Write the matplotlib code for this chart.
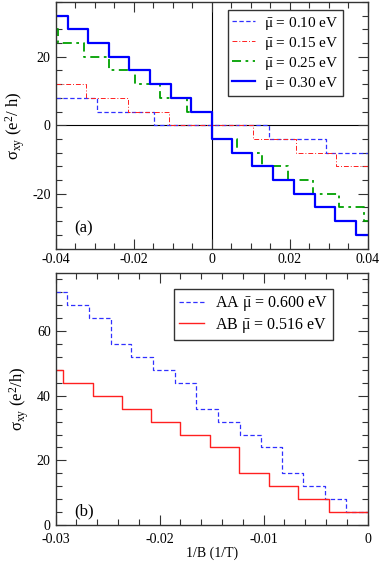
import matplotlib
matplotlib.use("Agg")
import matplotlib.pyplot as plt
from matplotlib.ticker import MultipleLocator, FuncFormatter

plt.rcParams['font.family'] = ['Liberation Serif', 'DejaVu Serif']
plt.rcParams['mathtext.fontset'] = 'custom'
plt.rcParams['mathtext.rm'] = 'Liberation Serif'
plt.rcParams['mathtext.it'] = 'Liberation Serif:italic'
plt.rcParams['axes.unicode_minus'] = False

# ---- panel (a): sigma_xy vs 1/B, step edges
a_x_010 = [-0.04, -0.0293, -0.0147, 0.0146, 0.0293, 0.04]
a_y_010 = [8, 4, 0, -4, -8, -8]

a_x_015 = [-0.04, -0.0322, -0.0215, -0.0109, 0.0107, 0.0216, 0.032, 0.04]
a_y_015 = [12, 8, 4, 0, -4, -8, -12, -12]

a_x_025 = [-0.04, -0.0393, -0.0326, -0.0263, -0.0196, -0.0131, -0.0064, 0.0,
           0.0064, 0.013, 0.0196, 0.026, 0.0326, 0.039, 0.04]
a_y_025 = [28, 24, 20, 16, 12, 8, 4, -4, -8, -12, -16, -20, -24, -28, -28]

a_x_030 = [-0.04, -0.0369, -0.0317, -0.0264, -0.0211, -0.0158, -0.0105, -0.0053, 0.0,
           0.0053, 0.0104, 0.0158, 0.0211, 0.0264, 0.0317, 0.0369, 0.04]
a_y_030 = [32, 28, 24, 20, 16, 12, 8, 4, -4, -8, -12, -16, -20, -24, -28, -32, -32]

# ---- panel (b)
b_x_aa = [-0.03, -0.0289, -0.0268, -0.0247, -0.0227, -0.0206, -0.0185, -0.0165, -0.0144,
          -0.0123, -0.0103, -0.0082, -0.0062, -0.0041, -0.0021, 0.0]
b_y_aa = [72, 68, 64, 56, 52, 48, 44, 36, 32, 28, 24, 16, 12, 8, 4, 4]

b_x_ab = [-0.03, -0.0293, -0.0264, -0.0236, -0.0208, -0.0180, -0.0152, -0.0124,
          -0.0095, -0.0067, -0.0037, 0.0]
b_y_ab = [48, 44, 40, 36, 32, 28, 24, 16, 12, 8, 4, 4]

mu_bar = r'$\bar{\mathrm{\mu}}$'
labels_a = [mu_bar + ' = 0.10 eV', mu_bar + ' = 0.15 eV',
            mu_bar + ' = 0.25 eV', mu_bar + ' = 0.30 eV']
labels_b = ['AA ' + mu_bar + ' = 0.600 eV', 'AB ' + mu_bar + ' = 0.516 eV']


def fmt(v, pos):
    if abs(v) < 1e-12:
        return '0'
    return ('%g' % v)


def style_axes(ax):
    ax.tick_params(which='both', direction='in', top=True, right=True,
                   labelsize=10, width=0.8, colors='#333333', labelcolor='black')
    ax.tick_params(which='major', length=7)
    ax.tick_params(which='minor', length=4)
    for s in ax.spines.values():
        s.set_linewidth(1.0)
        s.set_color('#333333')
    ax.xaxis.set_major_formatter(FuncFormatter(fmt))
    ax.yaxis.set_major_formatter(FuncFormatter(fmt))


def make_legend(ax, anchor, size, hlen, hpad, lspace):
    leg = ax.legend(loc='upper right', bbox_to_anchor=anchor, borderaxespad=0,
                    fancybox=False, edgecolor='#333333', framealpha=1, fontsize=size,
                    handlelength=hlen, labelspacing=lspace, handletextpad=hpad,
                    borderpad=0.3)
    leg.get_frame().set_linewidth(1.0)
    return leg


fig = plt.figure(figsize=(3.82, 5.62), dpi=100)
ax1 = fig.add_axes([0.1453, 0.5578, 0.8173, 0.4386])
ax2 = fig.add_axes([0.1453, 0.0658, 0.8173, 0.4484])

# panel (a)
ax1.axhline(0, color='black', lw=0.8, zorder=1)
ax1.axvline(0, color='black', lw=0.8, zorder=1)
ax1.step(a_x_010, a_y_010, where='post', color='#3030ff', lw=0.9,
         dashes=(3.5, 2), label=labels_a[0])
ax1.step(a_x_015, a_y_015, where='post', color='#ff2020', lw=0.7,
         dashes=(5, 2, 1, 2), label=labels_a[1])
ax1.step(a_x_025, a_y_025, where='post', color='#00a000', lw=1.3,
         dashes=(5, 2.5, 1.5, 2.5), label=labels_a[2])
ax1.step(a_x_030, a_y_030, where='post', color='#0000ff', lw=1.6,
         label=labels_a[3])
ax1.set_xlim(-0.04, 0.04)
ax1.set_ylim(-36, 36)
ax1.xaxis.set_major_locator(MultipleLocator(0.02))
ax1.xaxis.set_minor_locator(MultipleLocator(0.005))
ax1.yaxis.set_major_locator(MultipleLocator(20))
ax1.yaxis.set_minor_locator(MultipleLocator(4))
style_axes(ax1)
ax1.set_ylabel(r'$\mathrm{\sigma_{xy}}$ (e$^2$/ h)', fontsize=12, labelpad=4)
ax1.text(0.06, 0.065, '(a)', transform=ax1.transAxes, fontsize=12)
make_legend(ax1, (0.922, 0.9675), 11, 1.5, 0.6, 0.2)

# panel (b)
ax2.step(b_x_aa, b_y_aa, where='post', color='#3030ff', lw=0.9,
         dashes=(3.5, 2), label=labels_b[0])
ax2.step(b_x_ab, b_y_ab, where='post', color='#ff2020', lw=1.0,
         label=labels_b[1])
ax2.set_xlim(-0.03, 0.0)
ax2.set_ylim(0, 78)
ax2.xaxis.set_major_locator(MultipleLocator(0.01))
ax2.xaxis.set_minor_locator(MultipleLocator(0.002))
ax2.yaxis.set_major_locator(MultipleLocator(20))
ax2.yaxis.set_minor_locator(MultipleLocator(4))
style_axes(ax2)
ax2.tick_params(axis='x', pad=6)
ax2.set_ylabel(r'$\mathrm{\sigma_{xy}}$ (e$^2$/h)', fontsize=12, labelpad=4)
ax2.set_xlabel('1/B (1/T)', fontsize=10, labelpad=0)
ax2.text(0.06, 0.04, '(b)', transform=ax2.transAxes, fontsize=12)
make_legend(ax2, (0.890, 0.935), 11.5, 1.6, 0.7, 0.18)

fig.savefig('out.png', dpi=100)
